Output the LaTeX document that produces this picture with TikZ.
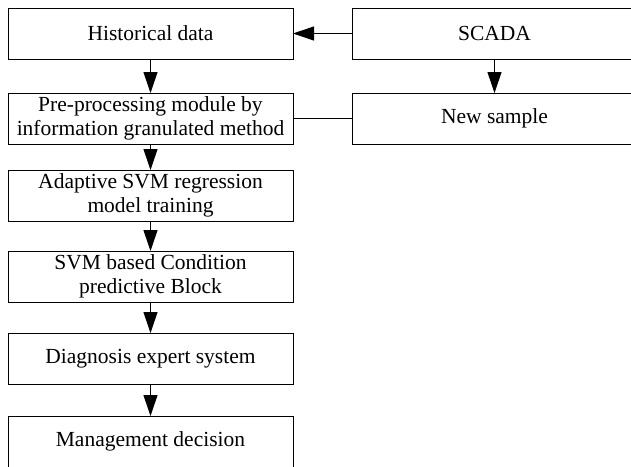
\documentclass[tikz,border=0pt]{standalone}
\usepackage{fontspec}
\setmainfont{Liberation Serif}
\usetikzlibrary{arrows.meta}
\begin{document}
\begin{tikzpicture}[x=1pt,y=-1pt,
  box/.style={draw, line width=1pt, rectangle, anchor=north west,
    minimum width=285pt, minimum height=51pt, inner sep=0pt, outer sep=0pt,
    align=center, font=\fontsize{21.5}{24}\selectfont},
  arr/.style={line width=1pt, -{Triangle[length=21pt,width=14pt]}},
  link/.style={line width=1pt}]
\useasboundingbox (0,0) rectangle (631,466);
\clip (0,0) rectangle (631,466);
\node[box] (hist) at (8,8) {Historical data};
\node[box] (scada) at (352,8) {SCADA};
\node[box] (pre) at (8,93) {Pre-processing module by\\information granulated method};
\node[box] (new) at (352,93) {New sample};
\node[box] (adapt) at (8,170) {Adaptive SVM regression\\model training};
\node[box] (svm) at (8,251) {SVM based Condition\\predictive Block};
\node[box] (diag) at (8,333) {Diagnosis expert system};
\node[box] (mgmt) at (8,416) {Management decision};
\draw[arr] (scada.west) -- (hist.east);
\draw[arr] (hist.south) -- (pre.north);
\draw[arr] (scada.south) -- (new.north);
\draw[link] (pre.east) -- (new.west);
\draw[arr] (pre.south) -- (adapt.north);
\draw[arr] (adapt.south) -- (svm.north);
\draw[arr] (svm.south) -- (diag.north);
\draw[arr] (diag.south) -- (mgmt.north);
\end{tikzpicture}
\end{document}
